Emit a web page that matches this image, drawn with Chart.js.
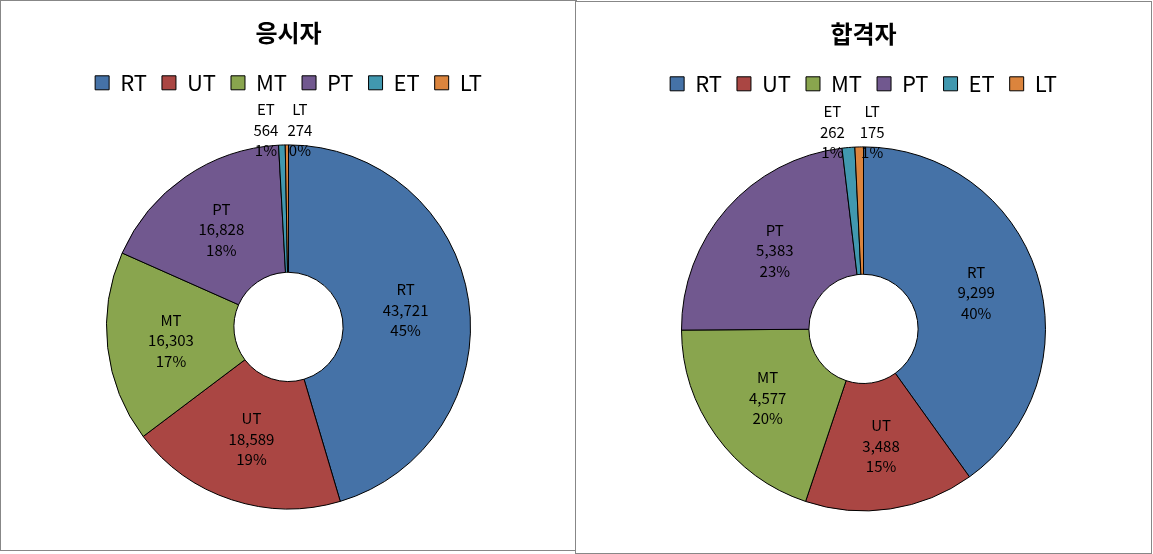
<!DOCTYPE html>
<html>
<head>
<meta charset="utf-8">
<script src="https://cdn.jsdelivr.net/npm/chart.js@4.4.0/dist/chart.umd.min.js"></script>
<style>
  body { margin: 0; background: #fff; }
  .panel { position: absolute; box-sizing: border-box; border: 1px solid #878787; background: #fff; }
  #panel-left { left: 0; top: 0; width: 577px; height: 551px; }
  #panel-right { left: 575px; top: 1px; width: 577px; height: 553px; }
  canvas { display: block; }
</style>
</head>
<body>
<div class="panel" id="panel-left"><canvas id="chart-left" width="575" height="549"></canvas></div>
<div class="panel" id="panel-right"><canvas id="chart-right" width="575" height="551"></canvas></div>
<script>
// Dados
const categories = ['RT', 'UT', 'MT', 'PT', 'ET', 'LT'];
const applicantValues = [43721, 18589, 16303, 16828, 564, 274];
const applicantPercents = [45, 19, 17, 18, 1, 0];
const passerValues = [9299, 3488, 4577, 5383, 262, 175];
const passerPercents = [40, 15, 20, 23, 1, 1];
const sliceColors = ['#4572A7', '#AA4643', '#89A54E', '#71588F', '#4198AF', '#DB843D'];

const FONT = "'Noto Sans CJK KR', 'Noto Sans', sans-serif";

/** Desenha os rótulos (nome, valor, percentual) de cada fatia. */
const sliceLabels = {
    id: 'sliceLabels',
    afterDatasetsDraw(chart, args, opts) {
        const ctx = chart.ctx;
        const meta = chart.getDatasetMeta(0);
        const values = chart.data.datasets[0].data;
        ctx.save();
        ctx.font = `15px ${FONT}`;
        ctx.fillStyle = '#000';
        ctx.textAlign = 'center';
        ctx.textBaseline = 'middle';
        meta.data.forEach((arc, i) => {
            const p = arc.getProps(['x', 'y', 'startAngle', 'endAngle', 'innerRadius', 'outerRadius'], true);
            const mid = (p.startAngle + p.endAngle) / 2;
            const lines = [categories[i], values[i].toLocaleString('en-US'), opts.percents[i] + '%'];
            let x, y;
            if (opts.percents[i] <= 1) {
                // fatias pequenas: rótulo por cima do anel
                const ox = p.x + Math.cos(mid) * p.outerRadius;
                x = ox + (i === 4 ? -16 : 13);
                y = p.y - p.outerRadius - 15;
            } else {
                const r = (p.innerRadius + p.outerRadius) / 2;
                x = p.x + Math.cos(mid) * r;
                y = p.y + Math.sin(mid) * r;
            }
            lines.forEach((t, k) => ctx.fillText(t, x, y + (k - 1) * 20.5));
        });
        ctx.restore();
    }
};

function makeChart(canvasId, title, values, percents) {
    return new Chart(document.getElementById(canvasId), {
        type: 'doughnut',
        data: {
            labels: categories,
            datasets: [{
                data: values,
                backgroundColor: sliceColors,
                borderColor: '#000',
                borderWidth: 1
            }]
        },
        options: {
            responsive: false,
            animation: false,
            radius: 182,
            cutout: '30%',
            layout: { padding: 0 },
            plugins: {
                title: {
                    display: true,
                    text: title,
                    color: '#000',
                    font: { family: FONT, size: 24, weight: 'bold' },
                    padding: { top: 17, bottom: 10 }
                },
                legend: {
                    position: 'top',
                    labels: {
                        boxWidth: 14,
                        boxHeight: 14,
                        padding: 15,
                        color: '#000',
                        font: { family: FONT, size: 22 }
                    }
                },
                tooltip: { enabled: false },
                sliceLabels: { percents: percents }
            }
        },
        plugins: [sliceLabels]
    });
}

makeChart('chart-left', '응시자', applicantValues, applicantPercents);
makeChart('chart-right', '합격자', passerValues, passerPercents);
</script>
</body>
</html>
